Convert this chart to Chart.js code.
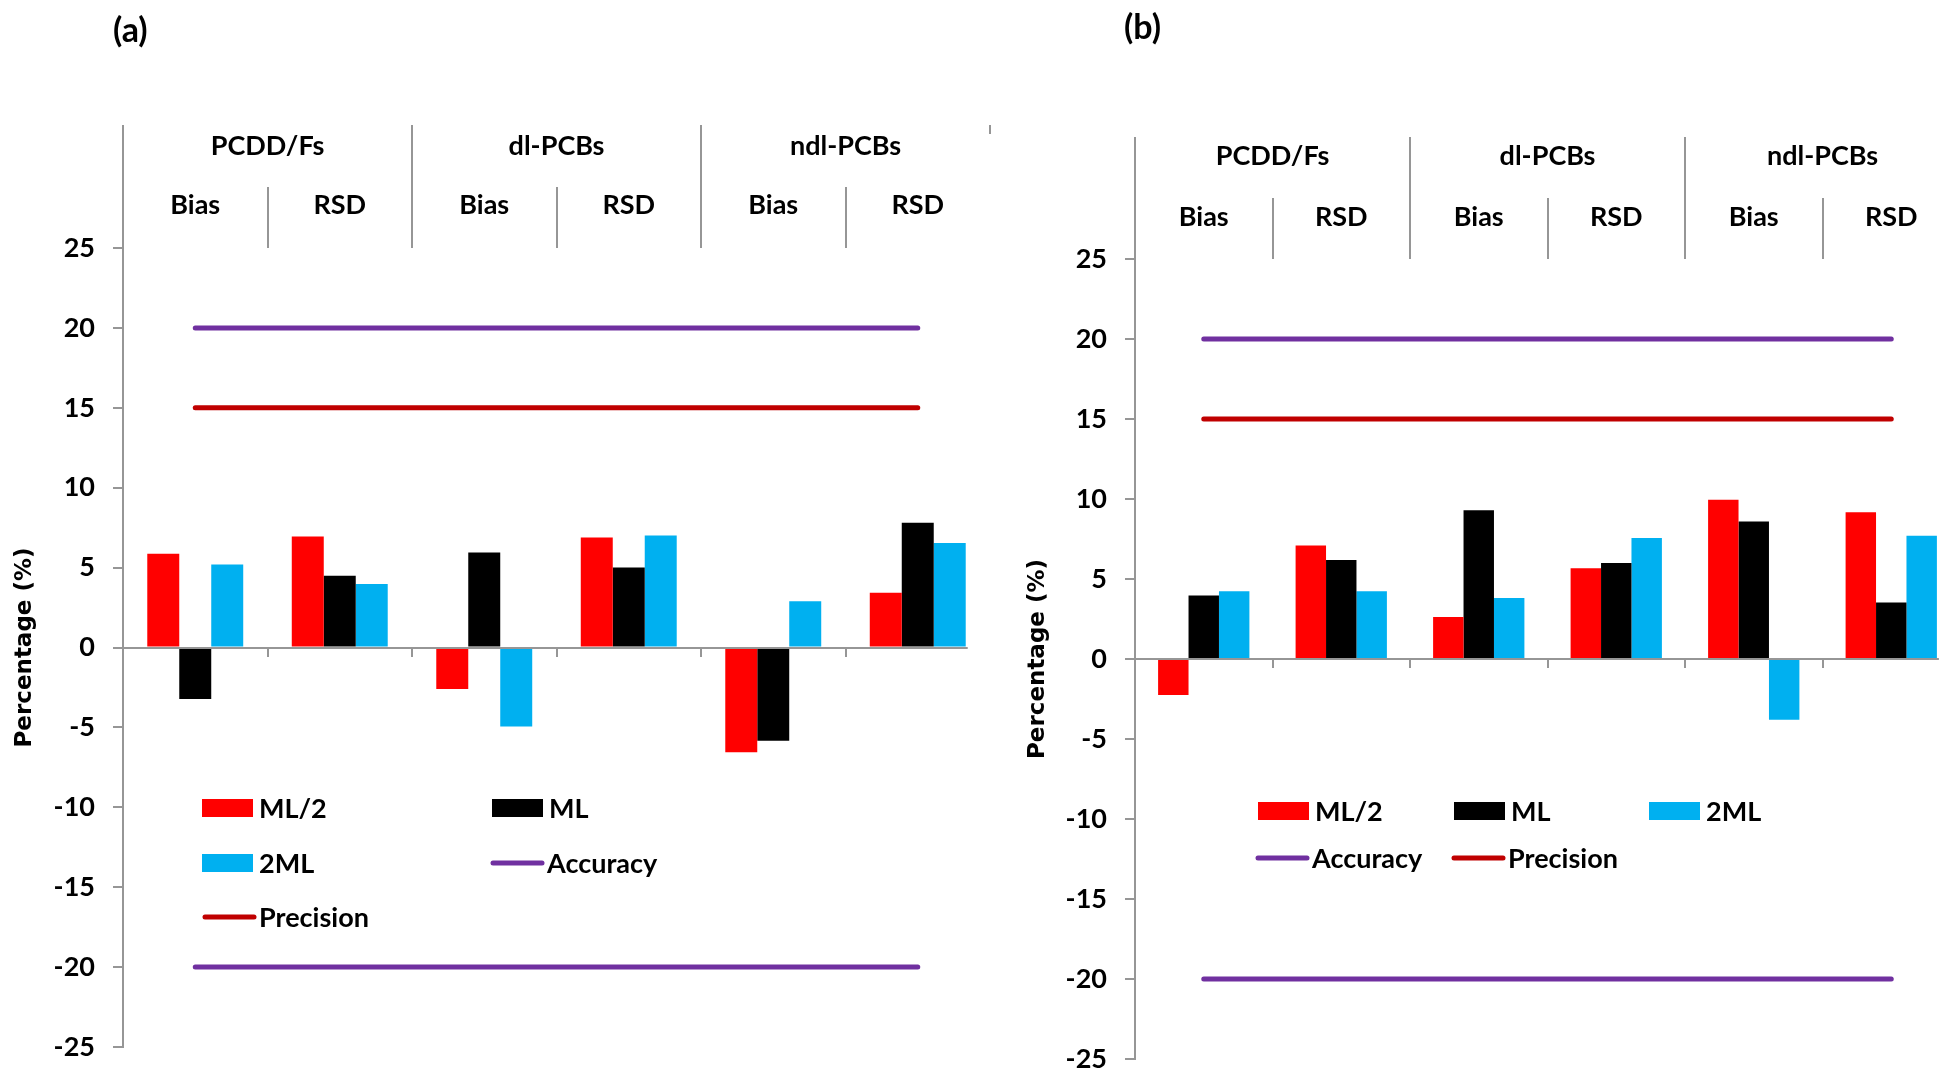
<!DOCTYPE html>
<html>
<head>
<meta charset="utf-8">
<script src="https://cdn.jsdelivr.net/npm/chart.js@4.4.1/dist/chart.umd.min.js"></script>
<style>
  html, body { margin: 0; padding: 0; background: #fff; overflow: hidden; width: 1954px; height: 1072px; }
  #chartA { position: absolute; left: 0; top: 0; }
  #chartB { position: absolute; left: 1000px; top: 0; }
</style>
</head>
<body>
<canvas id="chartA" width="1000" height="1110"></canvas>
<canvas id="chartB" width="970" height="1110"></canvas>
<script>
// categories along the x axis, grouped two by two
const categories = ['Bias', 'RSD', 'Bias', 'RSD', 'Bias', 'RSD'];
const groups = ['PCDD/Fs', 'dl-PCBs', 'ndl-PCBs'];

// panel (a)
const halfMlA = [5.87, 6.94, -2.6, 6.88, -6.55, 3.42];
const mlA = [-3.22, 4.49, 5.94, 5.0, -5.84, 7.81];
const doubleMlA = [5.2, 3.97, -4.95, 7.01, 2.9, 6.54];

// panel (b)
const halfMlB = [-2.25, 7.1, 2.63, 5.67, 9.96, 9.17];
const mlB = [3.97, 6.18, 9.29, 6.0, 8.59, 3.53];
const doubleMlB = [4.24, 4.24, 3.82, 7.57, -3.79, 7.7];

// acceptance limits
const accuracyUpper = [20, 20, 20, 20, 20, 20];
const accuracyLower = [-20, -20, -20, -20, -20, -20];
const precisionLimit = [15, 15, 15, 15, 15, 15];

const yMin = -25, yMax = 25, yStep = 5;

const RED = '#FF0000', BLACK = '#000000', BLUE = '#00B0F0';
const PURPLE = '#7030A0', DARKRED = '#C00000', AXIS = '#969696';
const LABEL_FONT = 'bold 27px Lato';
const GROUP_SHARE = 0.664;

Chart.defaults.font.family = 'Lato';

const headerPlugin = {
  id: 'groupHeader',
  afterDraw(chart, args, opts) {
    const { ctx, chartArea } = chart;
    const xs = chart.scales.x;
    const ys = chart.scales.y;
    const n = categories.length;
    const w = (chartArea.right - chartArea.left) / n;
    const top = chartArea.top;
    const y0 = Math.round(ys.getPixelForValue(0));
    ctx.save();
    ctx.strokeStyle = AXIS;
    ctx.lineWidth = 2;
    // x axis line, ending at the last bar
    ctx.beginPath();
    ctx.moveTo(chartArea.left, y0);
    ctx.lineTo(xs.getPixelForValue(n - 1) + GROUP_SHARE * w / 2 + 2, y0);
    ctx.stroke();
    // dividers of the header box
    for (let i = 0; i <= n; i++) {
      const px = Math.round(xs.getPixelForValue(0) - w / 2 + i * w);
      let y1, y2 = top;
      if (i === n) { y1 = top - opts.boxTop; y2 = y1 + 9; }
      else if (i % 2 === 0) y1 = top - opts.boxTop;
      else y1 = top - opts.midTop;
      ctx.beginPath();
      ctx.moveTo(px, y1);
      ctx.lineTo(px, y2);
      ctx.stroke();
    }
    ctx.fillStyle = '#000';
    ctx.font = LABEL_FONT;
    ctx.textAlign = 'center';
    ctx.textBaseline = 'middle';
    groups.forEach((g, j) => {
      const cx = (xs.getPixelForValue(2 * j) + xs.getPixelForValue(2 * j + 1)) / 2;
      ctx.fillText(g, cx, top - opts.groupY);
    });
    categories.forEach((c, i) => {
      ctx.fillText(c, xs.getPixelForValue(i), top - opts.catY);
    });
    // panel letter
    ctx.font = 'bold 34px Lato';
    ctx.textAlign = 'left';
    ctx.fillText(opts.letter, opts.letterX, opts.letterY);

    // legend
    const items = chart.data.datasets.filter(d => !d.noLegend);
    ctx.font = LABEL_FONT;
    items.forEach((d, i) => {
      const [dx, dy] = opts.legend[i];
      const lx = chartArea.left + dx;
      const ly = y0 + dy;
      if (d.type === 'line') {
        ctx.strokeStyle = d.borderColor;
        ctx.lineWidth = 5;
        ctx.lineCap = 'round';
        ctx.beginPath();
        ctx.moveTo(lx + 3, ly);
        ctx.lineTo(lx + 52, ly);
        ctx.stroke();
      } else {
        ctx.fillStyle = d.backgroundColor;
        ctx.fillRect(lx, ly - 9, 51, 18);
      }
      ctx.fillStyle = '#000';
      ctx.fillText(d.label, lx + 57, ly + 1);
    });
    ctx.restore();
  }
};

function makeDatasets(half, ml, dbl) {
  const lineStyle = { type: 'line', pointRadius: 0, borderWidth: 5, borderCapStyle: 'round', fill: false, order: -1 };
  return [
    { label: 'ML/2', data: half, backgroundColor: RED },
    { label: 'ML', data: ml, backgroundColor: BLACK },
    { label: '2ML', data: dbl, backgroundColor: BLUE },
    Object.assign({ label: 'Accuracy', data: accuracyUpper, borderColor: PURPLE }, lineStyle),
    Object.assign({ label: 'Accuracy', data: accuracyLower, borderColor: PURPLE, noLegend: true }, lineStyle),
    Object.assign({ label: 'Precision', data: precisionLimit, borderColor: DARKRED }, lineStyle)
  ];
}

function makeChart(id, datasets, cfg) {
  const ctx = document.getElementById(id).getContext('2d');
  return new Chart(ctx, {
    type: 'bar',
    data: { labels: categories, datasets: datasets },
    options: {
      responsive: false,
      animation: false,
      devicePixelRatio: 1,
      layout: { padding: cfg.padding },
      datasets: { bar: { barPercentage: 1, categoryPercentage: GROUP_SHARE } },
      scales: {
        x: {
          position: { y: 0 },
          ticks: { display: false },
          grid: {
            display: true, drawOnChartArea: false, drawTicks: true, tickLength: 9, lineWidth: 2, offset: true,
            // no tick mark after the last category
            color: c => (c.tick ? AXIS : 'rgba(0,0,0,0)')
          },
          border: { display: false }
        },
        y: {
          min: yMin, max: yMax,
          afterFit(scale) { scale.width = cfg.yWidth; },
          ticks: { stepSize: yStep, color: '#000', font: { size: 27, weight: 'bold' }, padding: 18 },
          grid: { display: true, drawOnChartArea: false, drawTicks: true, tickLength: 10, color: AXIS, lineWidth: 2 },
          border: { display: true, color: AXIS, width: 2 },
          title: {
            display: true, text: 'Percentage (%)', color: '#000',
            font: { family: 'DejaVu Sans', size: 23, weight: 'bold' },
            padding: { top: cfg.titlePad, bottom: 0 }
          }
        }
      },
      plugins: {
        legend: { display: false },
        tooltip: { enabled: false },
        groupHeader: cfg.header
      }
    },
    plugins: [headerPlugin]
  });
}

makeChart('chartA', makeDatasets(halfMlA, mlA, doubleMlA), {
  padding: { left: 0, top: 248, right: 10, bottom: 63 },
  yWidth: 123,
  titlePad: 11,
  header: {
    boxTop: 123, midTop: 61, groupY: 102, catY: 43,
    letter: '(a)', letterX: 113, letterY: 31,
    legend: [[79, 160], [369, 160], [79, 215], [367, 215], [79, 269]]
  }
});

makeChart('chartB', makeDatasets(halfMlB, mlB, doubleMlB), {
  padding: { left: 0, top: 259, right: 10, bottom: 51 },
  yWidth: 135,
  titlePad: 24,
  header: {
    boxTop: 122, midTop: 61, groupY: 103, catY: 42,
    letter: '(b)', letterX: 124, letterY: 28,
    legend: [[123, 152], [319, 152], [514, 152], [120, 199], [316, 199]]
  }
});
</script>
</body>
</html>
